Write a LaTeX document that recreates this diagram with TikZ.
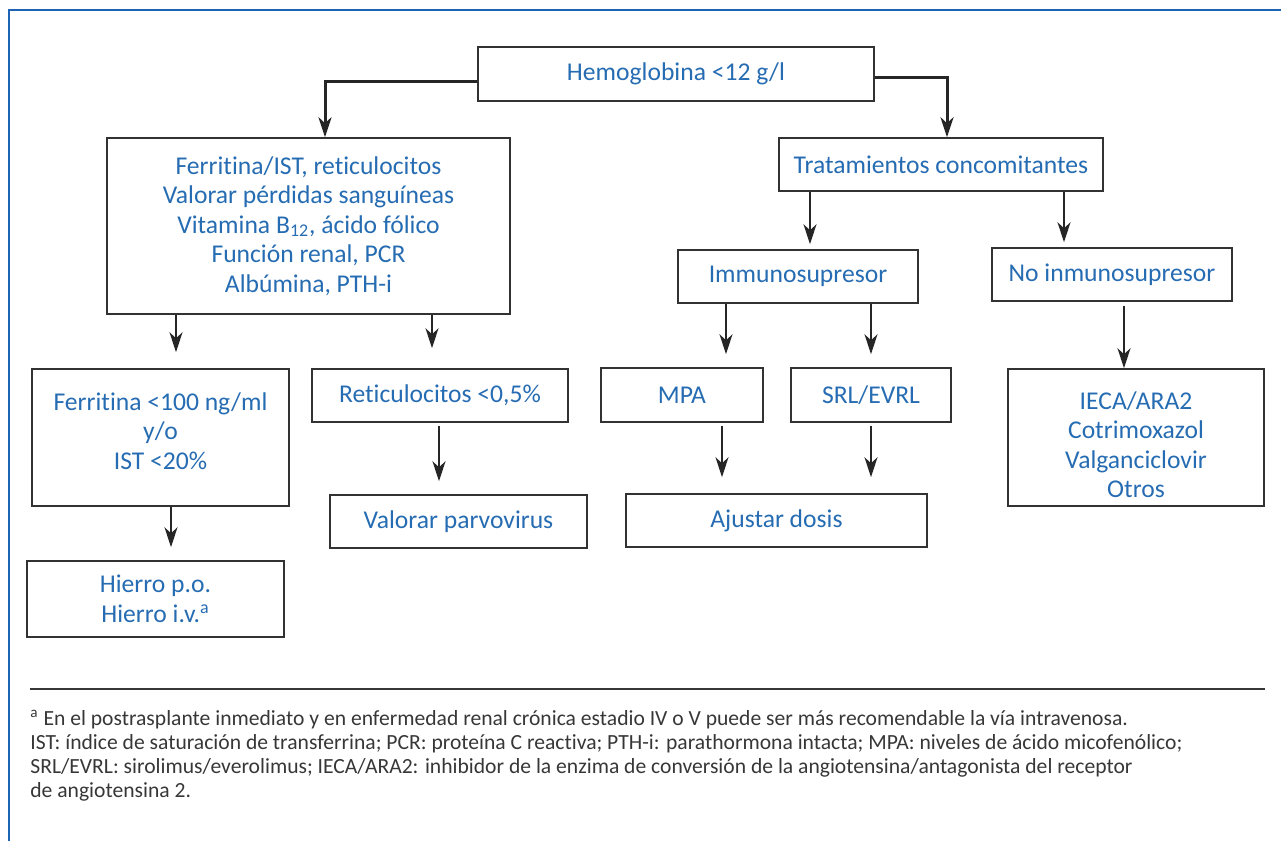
\documentclass[tikz,border=0pt]{standalone}
\usepackage{fontspec}
\usetikzlibrary{arrows.meta}
\newfontfamily\boxfont[Ligatures=NoCommon]{Carlito}
\newfontfamily\notefont[Ligatures=NoCommon]{Carlito}
\definecolor{txtblue}{RGB}{38,108,178}
\definecolor{frameblue}{RGB}{30,100,180}
\definecolor{boxgray}{RGB}{50,50,50}
\definecolor{notegray}{RGB}{55,55,55}
\tikzset{
    box/.style={rectangle, draw=boxgray, line width=0.75pt, inner sep=0pt, align=center,
        text=txtblue, font=\boxfont\fontsize{12.8}{14.75}\selectfont}
}
\tikzset{
    arr/.style={draw=black!85, line width=0.7pt, -{Stealth[length=10pt, width=6.5pt, inset=3pt]}},
    thickarr/.style={arr, line width=1.5pt}
}
\tikzset{note/.style={anchor=base west, inner sep=0pt, text=notegray, font=\notefont\fontsize{10.8}{12}\selectfont}}

\begin{document}
\begin{tikzpicture}[x=0.5pt, y=-0.5pt]
    \useasboundingbox (0,0) rectangle (1281,841);
    \draw[frameblue, line width=0.9pt] (9,841) -- (9,10) -- (1281,10);

    \node[box, minimum width=198pt, minimum height=27pt] (hb) at (676,74) {Hemoglobina <12 g/l};

    \node[box, minimum width=201.5pt, minimum height=88pt] (fe) at (308.5,226) {Ferritina/IST, reticulocitos\\Valorar pérdidas sanguíneas\\Vitamina B\textsubscript{12}, ácido fólico\\Función renal, PCR\\Albúmina, PTH-i};
    \node[box, minimum width=128.5pt, minimum height=68.5pt] (fr) at (160.5,437.5) {Ferritina <100 ng/ml\\y/o\\IST <20\%\rule[-6.5pt]{0pt}{0pt}};
    \node[box, minimum width=128.5pt, minimum height=38pt] (hi) at (155.5,599) {Hierro p.o.\\Hierro i.v.\textsuperscript{a}};
    \node[box, minimum width=128pt, minimum height=26.5pt] (re) at (440,395.5) {Reticulocitos <0,5\%};
    \node[box, minimum width=128.5pt, minimum height=26.5pt] (pv) at (458.5,521.5) {Valorar parvovirus};

    \node[box, minimum width=162pt, minimum height=26.5pt] (tr) at (941,164.5) {Tratamientos concomitantes};
    \node[box, minimum width=120pt, minimum height=26.5pt] (im) at (798,276.5) {Immunosupresor};
    \node[box, minimum width=120pt, minimum height=26.5pt] (ni) at (1112,274.5) {No inmunosupresor};
    \node[box, minimum width=81pt, minimum height=27pt] (mp) at (682,395) {MPA};
    \node[box, minimum width=80pt, minimum height=27pt] (sr) at (871,395) {SRL/EVRL};
    \node[box, minimum width=150.5pt, minimum height=26.5pt] (aj) at (776.5,520.5) {Ajustar dosis};
    \node[box, minimum width=128pt, minimum height=68.5pt] (ie) at (1136,437.5) {\rule{0pt}{16pt}IECA/ARA2\\Cotrimoxazol\\Valganciclovir\\Otros};

    \draw[thickarr] ([yshift=-3.5pt]hb.west) -| ([xshift=8.25pt]fe.north);
    \draw[thickarr] ([yshift=-1.5pt]hb.east) -| ([xshift=3pt]tr.north);

    \draw[arr, shorten >=8pt] ([xshift=7.75pt]fr.north |- fe.south) -- ([xshift=7.75pt]fr.north);
    \draw[arr, shorten >=10pt] ([xshift=-4pt]re.north |- fe.south) -- ([xshift=-4pt]re.north);
    \draw[arr, shorten >=6.5pt] ([xshift=7.75pt]hi.north |- fr.south) -- ([xshift=7.75pt]hi.north);
    \draw[arr, shorten <=1.5pt, shorten >=6.5pt] ([xshift=-9.75pt]pv.north |- re.south) -- ([xshift=-9.75pt]pv.north);

    \draw[arr, shorten >=2.5pt] ([xshift=6pt]im.north |- tr.south) -- ([xshift=6pt]im.north);
    \draw[arr, shorten >=2.5pt] ([xshift=-24pt]ni.north |- tr.south) -- ([xshift=-24pt]ni.north);
    \draw[arr, shorten >=6.5pt] ([xshift=22pt]mp.north |- im.south) -- ([xshift=22pt]mp.north);
    \draw[arr, shorten >=6.5pt] (sr.north |- im.south) -- (sr.north);
    \draw[arr, shorten <=2pt] ([xshift=-6pt]ie.north |- ni.south) -- ([xshift=-6pt]ie.north);
    \draw[arr, shorten <=1.5pt, shorten >=8pt] ([xshift=20pt]mp.south) -- ([xshift=20pt]mp.south |- aj.north);
    \draw[arr, shorten <=1.5pt, shorten >=8pt] (sr.south) -- (sr.south |- aj.north);

    \draw[notegray, line width=0.75pt] (30,689) -- (1265,689);
    \node[note] (n1) at (30,725) {\textsuperscript{a} En el postrasplante inmediato y en enfermedad renal crónica estadio IV o V puede ser más recomendable la vía intravenosa.};
    \node[note] (n2) at (30,749) {IST: índice de saturación de transferrina; PCR: proteína C reactiva; PTH-i: parathormona intacta; MPA: niveles de ácido micofenólico;};
    \node[note] (n3) at (30,773) {SRL/EVRL: sirolimus/everolimus; IECA/ARA2: inhibidor de la enzima de conversión de la angiotensina/antagonista del receptor};
    \node[note] (n4) at (30,797) {de angiotensina 2.};
\end{tikzpicture}
\end{document}
